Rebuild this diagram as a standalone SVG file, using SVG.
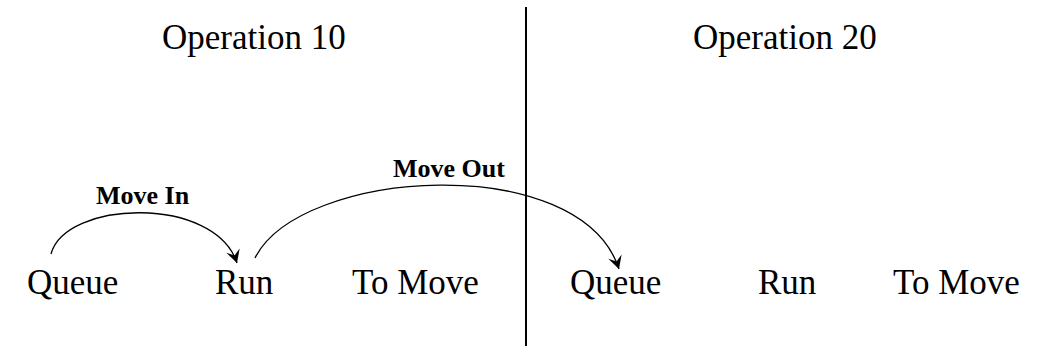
<svg xmlns="http://www.w3.org/2000/svg" width="1047" height="352" viewBox="0 0 1047 352">
  <style>
    .title { font-family: "Liberation Serif", "Times New Roman", serif; font-size: 35px; fill: #000; }
    .state { font-family: "Liberation Serif", "Times New Roman", serif; font-size: 35px; fill: #000; }
    .edge-label { font-family: "Liberation Serif", "Times New Roman", serif; font-size: 26px; font-weight: bold; fill: #000; }
    .arc { fill: none; stroke: #000; stroke-width: 1.3; }
    .divider { stroke: #000; stroke-width: 2; }
  </style>
  <defs>
    <marker id="arrow" markerUnits="userSpaceOnUse" viewBox="-14 -8 16 16" markerWidth="16" markerHeight="16" refX="0" refY="0" orient="auto">
      <path d="M0,0 L-13,-7 L-8,0 L-13,7 Z" fill="#000"/>
    </marker>
  </defs>
  <rect width="1047" height="352" fill="#fff"/>

  <line class="divider" x1="526" y1="7" x2="526" y2="346"/>

  <g id="title-op10"><text class="title" x="162" y="49">Operation 10</text></g>
  <g id="title-op20"><text class="title" x="693" y="49">Operation 20</text></g>

  <g id="op10-queue"><text class="state" x="27" y="294">Queue</text></g>
  <g id="op10-run"><text class="state" x="215" y="294">Run</text></g>
  <g id="op10-tomove"><text class="state" x="352" y="294">To Move</text></g>
  <g id="op20-queue"><text class="state" x="570" y="294">Queue</text></g>
  <g id="op20-run"><text class="state" x="758" y="294">Run</text></g>
  <g id="op20-tomove"><text class="state" x="893" y="294">To Move</text></g>

  <g id="connectors">
    <path class="arc" d="M51,254 C65,200 215,195 237,263" marker-end="url(#arrow)"/>
    <text class="edge-label" x="96" y="204">Move In</text>
    <path class="arc" d="M255,258 C300,168 580,150 619,269" marker-end="url(#arrow)"/>
    <text class="edge-label" x="393" y="177">Move Out</text>
  </g>
</svg>
